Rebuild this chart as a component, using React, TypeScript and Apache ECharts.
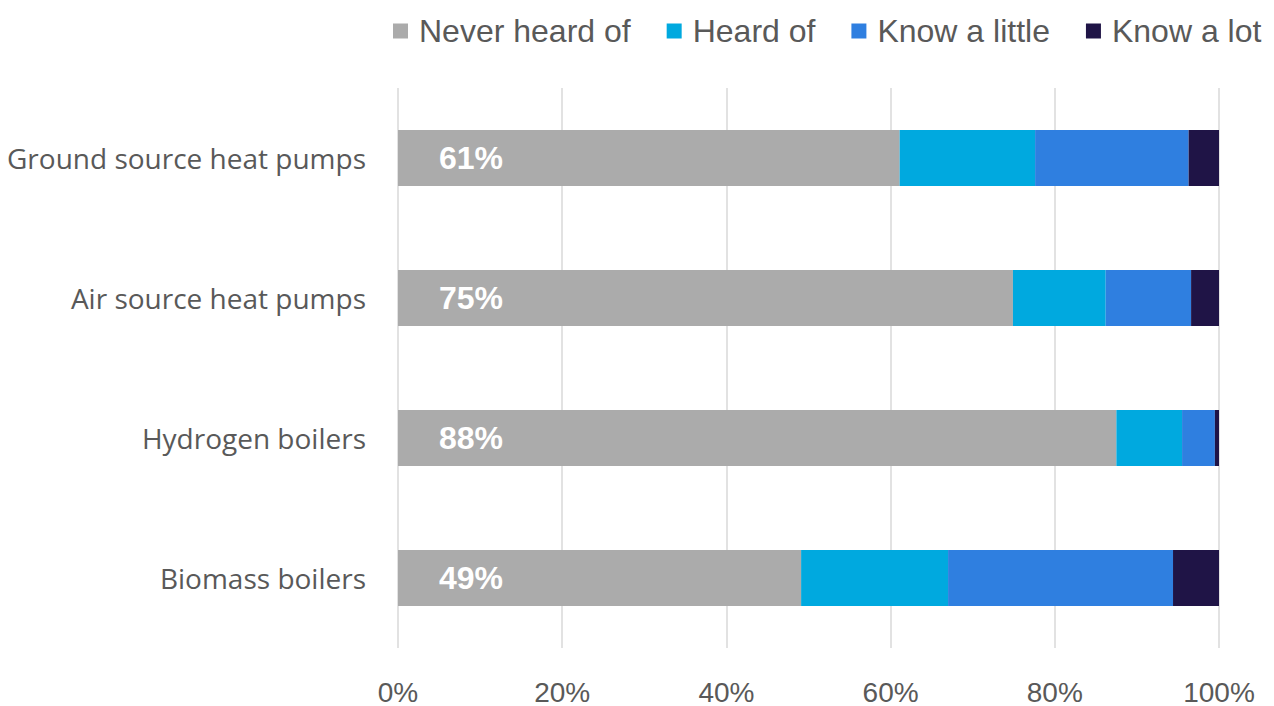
import React, { useEffect, useRef } from "react";
import * as echarts from "echarts";

const categories = ["Ground source heat pumps", "Air source heat pumps", "Hydrogen boilers", "Biomass boilers"];
const seriesNames = ["Never heard of", "Heard of", "Know a little", "Know a lot"];
const neverHeard = [61.1, 74.9, 87.5, 49.1];
const heardOf = [16.5, 11.3, 8.0, 17.9];
const knowLittle = [18.7, 10.4, 4.0, 27.4];
const knowLot = [3.7, 3.4, 0.5, 5.6];
const xTicks = [0, 20, 40, 60, 80, 100];
const colors = ["#ababab", "#00a9df", "#2f7fe0", "#1f1446"];

export default function App() {
  const ref = useRef<HTMLDivElement>(null);
  useEffect(() => {
    const chart = echarts.init(ref.current!, null, { renderer: "svg" });
    const data = [neverHeard, heardOf, knowLittle, knowLot];
    chart.setOption({
      animation: false,
      backgroundColor: "#ffffff",
      color: colors,
      legend: {
        top: 10,
        left: 388,
        itemWidth: 15,
        itemHeight: 15,
        itemGap: 36,
        icon: "rect",
        textStyle: { fontFamily: "Liberation Sans", fontSize: 32, color: "#595959", padding: [0, 0, 0, 6] },
        data: seriesNames,
      },
      grid: { left: 398, right: 55, top: 88, bottom: 57, containLabel: false },
      xAxis: {
        type: "value",
        min: xTicks[0],
        max: xTicks[xTicks.length - 1],
        interval: 20,
        axisLine: { show: false },
        axisTick: { show: false },
        splitLine: { show: true, lineStyle: { color: "#d9d9d9", width: 1.5 } },
        axisLabel: {
          formatter: (v: number) => v + "%",
          fontFamily: "Liberation Sans",
          fontSize: 28,
          color: "#595959",
          margin: 30,
        },
      },
      yAxis: {
        type: "category",
        data: categories,
        inverse: true,
        axisLine: { show: false },
        axisTick: { show: false },
        axisLabel: {
          fontFamily: "Open Sans",
          fontSize: 28,
          color: "#595959",
          margin: 32,
        },
      },
      series: seriesNames.map((name, i) => ({
        name,
        type: "bar",
        stack: "total",
        barWidth: 56,
        data: data[i],
        itemStyle: { color: colors[i] },
        label:
          i === 0
            ? {
                show: true,
                position: "insideLeft",
                distance: 41,
                formatter: (p: any) => Math.round(p.value) + "%",
                color: "#ffffff",
                fontWeight: "bold",
                fontFamily: "Liberation Sans",
                fontSize: 32,
              }
            : { show: false },
      })),
    });
    return () => chart.dispose();
  }, []);
  return <div ref={ref} style={{ width: 1274, height: 706, position: "absolute", left: 0, top: 0 }} />;
}
